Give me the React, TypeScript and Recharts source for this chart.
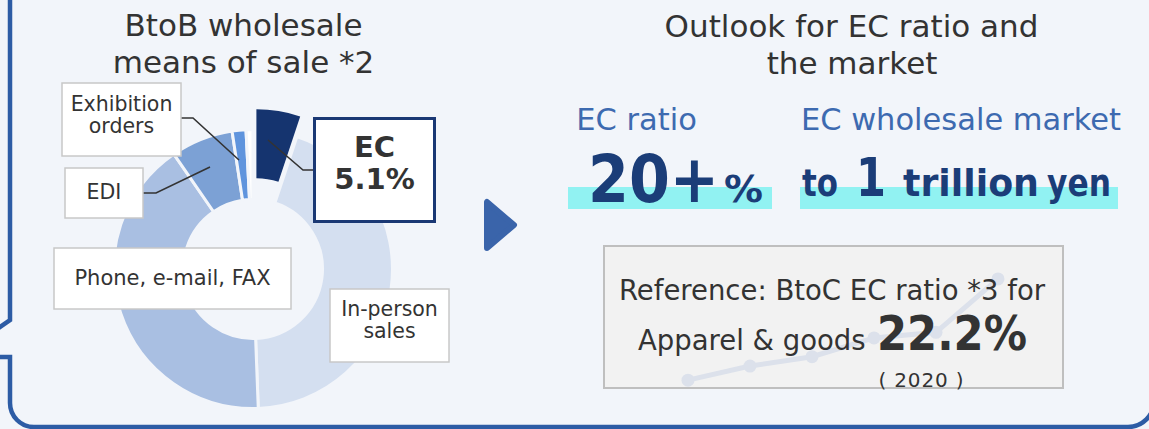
import React from 'react';
import { PieChart, Pie, Cell, LineChart, Line, XAxis, YAxis } from 'recharts';

// Donut: BtoB wholesale means of sale (share, %), clockwise from 12 o'clock
const categories = ['EC', 'In-person sales', 'Phone, e-mail, FAX', 'EDI', 'Exhibition orders', 'Others'];
const shares = [5.1, 44.3, 41.0, 7.2, 1.6, 0.8];
const sliceColors = ['#15346F', '#D4DFF0', '#A9BFE2', '#7CA1D5', '#5F94DD', '#FFFFFF'];

// Faint background line: BtoC EC ratio, apparel & goods (%)
const years = [2015, 2016, 2017, 2018, 2019, 2020];
const btocRatio = [11.4, 12.9, 13.9, 15.9, 16.5, 22.2];

// Texts
const leftTitle = ['BtoB wholesale', 'means of sale *2'];
const rightTitle = ['Outlook for EC ratio and', 'the market'];

const pieData = categories.map((name, i) => ({ name, value: shares[i] }));
const lineData = years.map((year, i) => ({ year, value: btocRatio[i] }));

const BG = '#F2F5FA';
const FONT = "'DejaVu Sans', Verdana, sans-serif";
const DARK = '#333333';
const NAVY = '#1B3D78';
const BLUE = '#3D6AB0';

export default function App() {
  return (
    <div
      style={{
        position: 'absolute',
        left: 0,
        top: 0,
        width: 1149,
        height: 429,
        overflow: 'hidden',
        background: BG,
        fontFamily: FONT,
      }}
    >
      {/* background decorations */}
      <svg width={1149} height={429} style={{ position: 'absolute', left: 0, top: 0 }}>
        <path
          d="M10,-10 L10,320 L-3,329 M-3,357 L10,357 L10,403 A24,24 0 0 0 34,427 L1128,427 A26,26 0 0 0 1154,401 L1154,-10"
          fill="none"
          stroke="#2D5CA5"
          strokeWidth={4.5}
        />
        <path
          d="M487,202 L487,248 L514,225 Z"
          fill="#3A64AA"
          stroke="#3A64AA"
          strokeWidth={6}
          strokeLinejoin="round"
        />
        <rect x={568} y={187} width={204} height={22} fill="#91F2F2" />
        <rect x={800} y={187} width={318} height={22} fill="#91F2F2" />
        <rect x={604} y={246} width={459} height={142} fill="#F2F2F2" stroke="#BFBFBF" strokeWidth={2} />
      </svg>

      {/* donut */}
      <div style={{ position: 'absolute', left: 0, top: 0 }}>
        <PieChart width={500} height={429}>
          <Pie
            data={pieData}
            dataKey="value"
            nameKey="name"
            cx={248}
            cy={264}
            innerRadius={69.5}
            outerRadius={139.5}
            startAngle={90}
            endAngle={-270}
            stroke={BG}
            strokeWidth={3}
            isAnimationActive={false}
          >
            {pieData.map((d, i) => (
              <Cell
                key={d.name}
                fill={i === 0 ? 'none' : sliceColors[i]}
                stroke={i === 0 ? 'none' : BG}
              />
            ))}
          </Pie>
          <Pie
            data={pieData}
            dataKey="value"
            nameKey="name"
            cx={251.4}
            cy={243.3}
            innerRadius={70}
            outerRadius={139}
            startAngle={90}
            endAngle={-270}
            stroke="none"
            isAnimationActive={false}
          >
            {pieData.map((d, i) => (
              <Cell key={d.name} fill={i === 0 ? sliceColors[0] : 'none'} stroke="none" />
            ))}
          </Pie>
        </PieChart>
      </div>

      {/* faint line in reference box */}
      <div style={{ position: 'absolute', left: 668, top: 252 }}>
        <LineChart width={350} height={170} data={lineData} margin={{ top: 10, right: 20, bottom: 10, left: 20 }}>
          <XAxis dataKey="year" type="number" domain={[2015, 2020]} hide />
          <YAxis type="number" domain={[8, 24]} hide />
          <Line
            dataKey="value"
            stroke="#DCE1EB"
            strokeWidth={5}
            dot={{ r: 6.5, fill: '#DCE1EB', stroke: 'none' }}
            isAnimationActive={false}
          />
        </LineChart>
      </div>

      {/* overlay: label boxes, leader lines and texts */}
      <svg
        width={1149}
        height={429}
        style={{ position: 'absolute', left: 0, top: 0, fontFamily: FONT }}
      >
        {/* titles */}
        <g fill={DARK} fontSize={31} textAnchor="middle">
          <text x={243.5} y={36}>{leftTitle[0]}</text>
          <text x={243.5} y={73}>{leftTitle[1]}</text>
          <text x={851.5} y={37}>{rightTitle[0]}</text>
          <text x={852} y={74}>{rightTitle[1]}</text>
        </g>

        {/* leader lines */}
        <g fill="none" stroke="#333" strokeWidth={1.6}>
          <polyline points="181,118 193,118 239,160" />
          <polyline points="143,193 156,193 210,167" />
          <polyline points="268,140 303,170 314,170" />
        </g>

        {/* label boxes */}
        <g fill="#FFFFFF" stroke="#C8C8C8" strokeWidth={1.5}>
          <rect x={62} y={83} width={119} height={73} />
          <rect x={65} y={168} width={78} height={50} />
          <rect x={54} y={248} width={237} height={61} />
          <rect x={330} y={289} width={119} height={73} />
        </g>
        <rect x={314.5} y={118.5} width={120} height={103} fill="#FFFFFF" stroke="#1A3874" strokeWidth={3} />

        <g fill={DARK} fontSize={20.5} textAnchor="middle">
          <text x={121.5} y={111}>Exhibition</text>
          <text x={121.5} y={133}>orders</text>
          <text x={104} y={199}>EDI</text>
          <text x={172.5} y={285} fontSize={21}>Phone, e-mail, FAX</text>
          <text x={389.5} y={316}>In-person</text>
          <text x={389.5} y={338}>sales</text>
        </g>
        <g fill={DARK} fontSize={29} fontWeight="bold" textAnchor="middle">
          <text x={374.5} y={157}>EC</text>
          <text x={374.5} y={189}>5.1%</text>
        </g>

        {/* outlook */}
        <g fill={BLUE} fontSize={30.5} textAnchor="middle">
          <text x={636.5} y={130}>EC ratio</text>
          <text x={961} y={130}>EC wholesale market</text>
        </g>
        <g fill={NAVY} fontWeight="bold">
          <text x={719} y={202} fontSize={66} textAnchor="end" textLength={131} lengthAdjust="spacingAndGlyphs">20+</text>
          <text x={724} y={202} fontSize={37} textLength={39} lengthAdjust="spacingAndGlyphs">%</text>
          <text x={802} y={196} fontSize={38} textLength={36} lengthAdjust="spacingAndGlyphs">to</text>
          <text x={856} y={196} fontSize={54} textLength={30} lengthAdjust="spacingAndGlyphs">1</text>
          <text x={903} y={196} fontSize={38} textLength={136} lengthAdjust="spacingAndGlyphs">trillion</text>
          <text x={1047} y={196} fontSize={38} textLength={64} lengthAdjust="spacingAndGlyphs">yen</text>
        </g>

        {/* reference box texts */}
        <text x={832} y={300} fill={DARK} fontSize={27.5} textAnchor="middle">
          Reference: BtoC EC ratio *3 for
        </text>
        <text x={638} y={350} fill={DARK} fontSize={27.5}>Apparel &amp; goods</text>
        <text x={877} y={350} fill={DARK} fontSize={48} fontWeight="bold" textLength={150} lengthAdjust="spacingAndGlyphs">
          22.2%
        </text>
        <text x={921} y={387} fill={DARK} fontSize={20} textAnchor="middle" textLength={85} lengthAdjust="spacing">
          ( 2020 )
        </text>
      </svg>
    </div>
  );
}
